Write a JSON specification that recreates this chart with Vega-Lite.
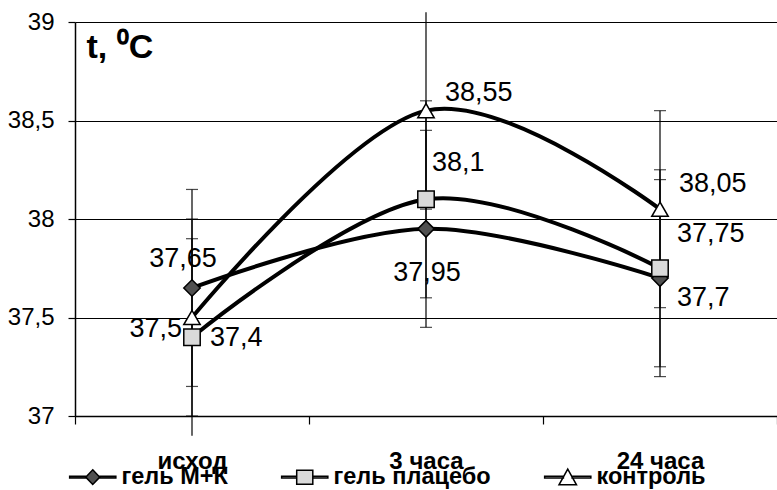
{
  "$schema": "https://vega.github.io/schema/vega-lite/v6.json",
  "width": 702,
  "height": 394,
  "autosize": {"type": "none"},
  "padding": {"left": 75, "top": 22, "right": 0, "bottom": 74},
  "data": {
    "values": [
      {"series": "гель М+К", "t": 0, "time": "исход", "value": 37.65, "lo": 37.15, "hi": 38.15},
      {"series": "гель М+К", "t": 1, "time": "3 часа", "value": 37.95, "lo": 37.45, "hi": 38.45},
      {"series": "гель М+К", "t": 2, "time": "24 часа", "value": 37.7, "lo": 37.2, "hi": 38.2},
      {"series": "гель плацебо", "t": 0, "time": "исход", "value": 37.4, "lo": 36.9, "hi": 37.9},
      {"series": "гель плацебо", "t": 1, "time": "3 часа", "value": 38.1, "lo": 37.6, "hi": 38.6},
      {"series": "гель плацебо", "t": 2, "time": "24 часа", "value": 37.75, "lo": 37.25, "hi": 38.25},
      {"series": "контроль", "t": 0, "time": "исход", "value": 37.5, "lo": 37.0, "hi": 38.0},
      {"series": "контроль", "t": 1, "time": "3 часа", "value": 38.55, "lo": 38.05, "hi": 39.05},
      {"series": "контроль", "t": 2, "time": "24 часа", "value": 38.05, "lo": 37.55, "hi": 38.55}
    ]
  },
  "encoding": {
    "x": {
      "field": "time",
      "type": "ordinal",
      "sort": ["исход", "3 часа", "24 часа"],
      "scale": {"type": "band", "paddingInner": 0, "paddingOuter": 0},
      "axis": {
        "title": null,
        "labelAngle": 0,
        "labelFont": "Liberation Sans",
        "labelFontSize": 24,
        "labelFontWeight": "bold",
        "labelColor": "black",
        "labelBaseline": "alphabetic",
        "labelPadding": 44,
        "tickSize": 8,
        "tickBand": "extent",
        "tickColor": "black",
        "tickWidth": 1.2,
        "domainColor": "black",
        "domainWidth": 1.5,
        "grid": false
      }
    },
    "y": {
      "field": "value",
      "type": "quantitative",
      "scale": {"domain": [37, 39], "nice": false, "zero": false},
      "axis": {
        "values": [37, 37.5, 38, 38.5, 39], "format": "~g",
        "title": "t, ⁰C", "titleAngle": 0, "titleAlign": "left", "titleBaseline": "alphabetic",
        "titleX": 11, "titleY": 35, "titleFont": "Liberation Sans", "titleFontSize": 34,
        "titleFontWeight": "bold", "titleColor": "black",
        "labelFont": "Liberation Sans", "labelFontSize": 24, "labelColor": "black",
        "labelPadding": 14, "labelBaseline": "middle",
        "tickSize": 7, "tickColor": "black", "tickWidth": 1.2,
        "domainColor": "black", "domainWidth": 1.5,
        "grid": true, "gridColor": "black", "gridWidth": 1.2, "gridOpacity": 1
      }
    }
  },
  "layer": [
    {
      "mark": {"type": "rule", "color": "black", "strokeWidth": 1.2},
      "encoding": {
        "y": {
          "field": "lo", "type": "quantitative",
          "scale": {"domain": [37, 39], "nice": false, "zero": false},
          "axis": {
            "values": [37, 37.5, 38, 38.5, 39], "format": "~g",
            "title": "t, ⁰C", "titleAngle": 0, "titleAlign": "left", "titleBaseline": "alphabetic",
            "titleX": 11, "titleY": 35, "titleFont": "Liberation Sans", "titleFontSize": 34,
            "titleFontWeight": "bold", "titleColor": "black",
            "labelFont": "Liberation Sans", "labelFontSize": 24, "labelColor": "black",
            "labelPadding": 14, "labelBaseline": "middle",
            "tickSize": 7, "tickColor": "black", "tickWidth": 1.2,
            "domainColor": "black", "domainWidth": 1.5,
            "grid": true, "gridColor": "black", "gridWidth": 1.2, "gridOpacity": 1
          }
        },
        "y2": {"field": "hi"}
      }
    },
    {
      "transform": [{"filter": "datum.hi <= 39"}],
      "mark": {"type": "tick", "color": "black", "size": 12, "thickness": 1.2, "orient": "horizontal"},
      "encoding": {
        "y": {
          "field": "hi", "type": "quantitative",
          "scale": {"domain": [37, 39], "nice": false, "zero": false},
          "axis": {
            "values": [37, 37.5, 38, 38.5, 39], "format": "~g",
            "title": "t, ⁰C", "titleAngle": 0, "titleAlign": "left", "titleBaseline": "alphabetic",
            "titleX": 11, "titleY": 35, "titleFont": "Liberation Sans", "titleFontSize": 34,
            "titleFontWeight": "bold", "titleColor": "black",
            "labelFont": "Liberation Sans", "labelFontSize": 24, "labelColor": "black",
            "labelPadding": 14, "labelBaseline": "middle",
            "tickSize": 7, "tickColor": "black", "tickWidth": 1.2,
            "domainColor": "black", "domainWidth": 1.5,
            "grid": true, "gridColor": "black", "gridWidth": 1.2, "gridOpacity": 1
          }
        }
      }
    },
    {
      "transform": [{"filter": "datum.lo >= 37"}],
      "mark": {"type": "tick", "color": "black", "size": 12, "thickness": 1.2, "orient": "horizontal"},
      "encoding": {
        "y": {
          "field": "lo", "type": "quantitative",
          "scale": {"domain": [37, 39], "nice": false, "zero": false},
          "axis": {
            "values": [37, 37.5, 38, 38.5, 39], "format": "~g",
            "title": "t, ⁰C", "titleAngle": 0, "titleAlign": "left", "titleBaseline": "alphabetic",
            "titleX": 11, "titleY": 35, "titleFont": "Liberation Sans", "titleFontSize": 34,
            "titleFontWeight": "bold", "titleColor": "black",
            "labelFont": "Liberation Sans", "labelFontSize": 24, "labelColor": "black",
            "labelPadding": 14, "labelBaseline": "middle",
            "tickSize": 7, "tickColor": "black", "tickWidth": 1.2,
            "domainColor": "black", "domainWidth": 1.5,
            "grid": true, "gridColor": "black", "gridWidth": 1.2, "gridOpacity": 1
          }
        }
      }
    },
    {
      "mark": {"type": "line", "interpolate": "cardinal", "color": "black", "strokeWidth": 4},
      "encoding": {
        "detail": {"field": "series", "type": "nominal"},
        "order": {"field": "t", "type": "quantitative"}
      }
    },
    {
      "mark": {"type": "point", "filled": true, "stroke": "black", "strokeWidth": 1.5, "opacity": 1, "size": 270},
      "encoding": {
        "shape": {
          "field": "series", "type": "nominal",
          "scale": {"domain": ["гель М+К", "гель плацебо", "контроль"], "range": ["diamond", "square", "triangle-up"]},
          "legend": null
        },
        "fill": {
          "field": "series", "type": "nominal",
          "scale": {"domain": ["гель М+К", "гель плацебо", "контроль"], "range": ["#505050", "#dadada", "#ffffff"]},
          "legend": null
        }
      }
    },
    {
      "transform": [{"filter": "datum.series == 'гель М+К' && datum.t == 0"}],
      "mark": {"type": "text", "align": "center", "dx": -9, "dy": -29},
      "encoding": {"text": {"field": "value", "type": "quantitative", "format": "~g"}}
    },
    {
      "transform": [{"filter": "datum.series == 'контроль' && datum.t == 0"}],
      "mark": {"type": "text", "align": "right", "dx": -10, "dy": 11},
      "encoding": {"text": {"field": "value", "type": "quantitative", "format": "~g"}}
    },
    {
      "transform": [{"filter": "datum.series == 'гель плацебо' && datum.t == 0"}],
      "mark": {"type": "text", "align": "left", "dx": 18, "dy": 1},
      "encoding": {"text": {"field": "value", "type": "quantitative", "format": "~g"}}
    },
    {
      "transform": [{"filter": "datum.series == 'контроль' && datum.t == 1"}],
      "mark": {"type": "text", "align": "left", "dx": 19, "dy": -18},
      "encoding": {"text": {"field": "value", "type": "quantitative", "format": "~g"}}
    },
    {
      "transform": [{"filter": "datum.series == 'гель плацебо' && datum.t == 1"}],
      "mark": {"type": "text", "align": "left", "dx": 6, "dy": -36},
      "encoding": {"text": {"field": "value", "type": "quantitative", "format": "~g"}}
    },
    {
      "transform": [{"filter": "datum.series == 'гель М+К' && datum.t == 1"}],
      "mark": {"type": "text", "align": "center", "dx": 1, "dy": 44},
      "encoding": {"text": {"field": "value", "type": "quantitative", "format": "~g"}}
    },
    {
      "transform": [{"filter": "datum.series == 'контроль' && datum.t == 2"}],
      "mark": {"type": "text", "align": "left", "dx": 19, "dy": -25},
      "encoding": {"text": {"field": "value", "type": "quantitative", "format": "~g"}}
    },
    {
      "transform": [{"filter": "datum.series == 'гель плацебо' && datum.t == 2"}],
      "mark": {"type": "text", "align": "left", "dx": 17, "dy": -34},
      "encoding": {"text": {"field": "value", "type": "quantitative", "format": "~g"}}
    },
    {
      "transform": [{"filter": "datum.series == 'гель М+К' && datum.t == 2"}],
      "mark": {"type": "text", "align": "left", "dx": 17, "dy": 20},
      "encoding": {"text": {"field": "value", "type": "quantitative", "format": "~g"}}
    },
    {
      "transform": [{"filter": "false"}],
      "mark": {"type": "point", "filled": true, "strokeWidth": 1.5},
      "encoding": {
        "shape": {
          "field": "series", "type": "nominal",
          "scale": {
            "domain": ["гель М+К", "гель плацебо", "контроль"],
            "range": [
              "M-3.3,-0.12H-0.95V0.12H-3.3Z M0.95,-0.12H3.3V0.12H0.95Z M0,-1.05L1,0L0,1.05L-1,0Z",
              "M-3.3,-0.12H-1.15V0.12H-3.3Z M1.15,-0.12H3.3V0.12H1.15Z M-1.15,-1H1.15V1H-1.15Z",
              "M-3.3,-0.12H-0.62V0.12H-3.3Z M0.62,-0.12H3.3V0.12H0.62Z M0,-1.15L1.25,1.1H-1.25Z"
            ]
          },
          "legend": {
            "orient": "none", "legendX": 6, "legendY": 443, "direction": "horizontal",
            "title": null, "symbolSize": 196, "labelOffset": 17, "columnPadding": 50,
            "labelFont": "Liberation Sans", "labelFontSize": 23.5, "labelFontWeight": "bold",
            "labelColor": "black", "labelLimit": 300,
            "symbolStrokeWidth": 1.5, "symbolOpacity": 1, "padding": 0
          }
        },
        "fill": {
          "field": "series", "type": "nominal",
          "scale": {"domain": ["гель М+К", "гель плацебо", "контроль"], "range": ["#505050", "#dadada", "#ffffff"]},
          "legend": {
            "orient": "none", "legendX": 6, "legendY": 443, "direction": "horizontal",
            "title": null, "symbolSize": 196, "labelOffset": 17, "columnPadding": 50,
            "labelFont": "Liberation Sans", "labelFontSize": 23.5, "labelFontWeight": "bold",
            "labelColor": "black", "labelLimit": 300,
            "symbolStrokeWidth": 1.5, "symbolOpacity": 1, "padding": 0
          }
        },
        "stroke": {
          "field": "series", "type": "nominal",
          "scale": {"domain": ["гель М+К", "гель плацебо", "контроль"], "range": ["#000000", "#000000", "#000000"]},
          "legend": {
            "orient": "none", "legendX": 6, "legendY": 443, "direction": "horizontal",
            "title": null, "symbolSize": 196, "labelOffset": 17, "columnPadding": 50,
            "labelFont": "Liberation Sans", "labelFontSize": 23.5, "labelFontWeight": "bold",
            "labelColor": "black", "labelLimit": 300,
            "symbolStrokeWidth": 1.5, "symbolOpacity": 1, "padding": 0
          }
        }
      }
    }
  ],
  "resolve": {"scale": {"shape": "independent", "fill": "independent", "stroke": "independent"}},
  "config": {
    "view": {"stroke": null},
    "locale": {"number": {"decimal": ",", "thousands": " ", "grouping": [3], "currency": ["", ""]}},
    "text": {"font": "Liberation Sans", "fontSize": 27, "baseline": "middle", "color": "black"}
  }
}
